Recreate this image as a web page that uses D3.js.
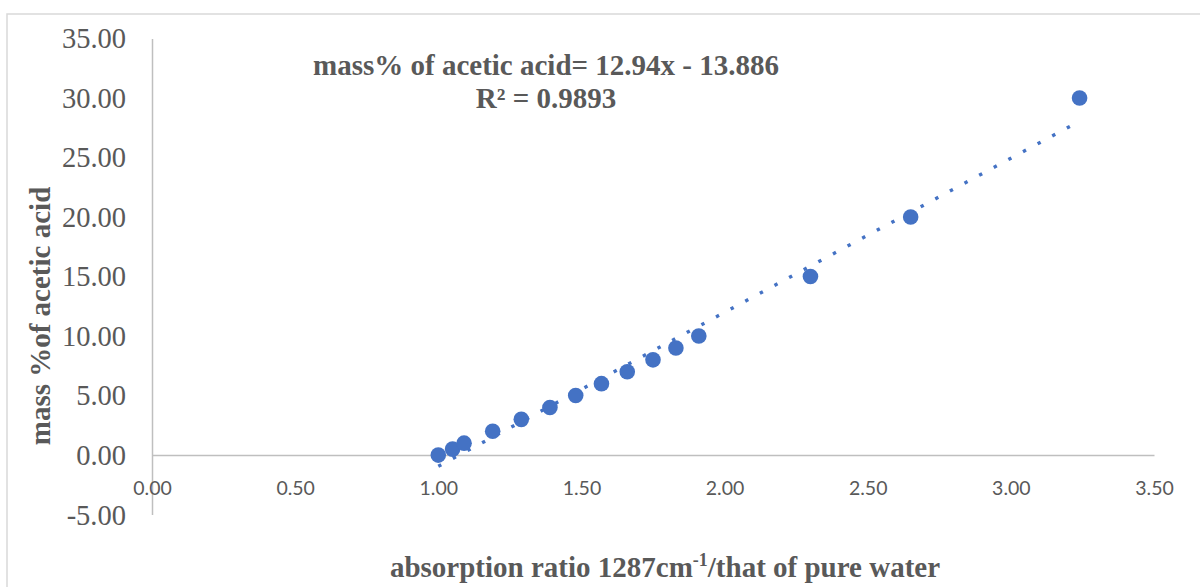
<!DOCTYPE html>
<html>
<head>
<meta charset="utf-8">
<script src="https://cdn.jsdelivr.net/npm/d3@7"></script>
<style>
  html, body { margin: 0; padding: 0; background: #fff; }
  svg { display: block; }
</style>
</head>
<body>
<svg id="chart" width="1200" height="587"></svg>
<script>
// ---- data ----
const ratioValues = [1.00, 1.05, 1.09, 1.19, 1.29, 1.39, 1.48, 1.57, 1.66, 1.75, 1.83, 1.91, 2.30, 2.65, 3.24];
const massPercent = [0, 0.5, 1, 2, 3, 4, 5, 6, 7, 8, 9, 10, 15, 20, 30];
const xTickValues = [0, 0.5, 1, 1.5, 2, 2.5, 3, 3.5];
const yTickValues = [-5, 0, 5, 10, 15, 20, 25, 30, 35];
const trendSlope = 12.94;
const trendIntercept = -13.886;
const equationText = "mass% of acetic acid= 12.94x - 13.886";
const r2Text = "R² = 0.9893";
const yTitle = "mass %of acetic acid";

const svg = d3.select("#chart");
const textColor = "#595959";
const axisColor = "#BFBFBF";
const blue = "#4472C4";
const fmt = d => d3.format(".2f")(d).replace("\u2212", "-");

// chart border
svg.append("rect")
  .attr("x", 7).attr("y", 14)
  .attr("width", 1210).attr("height", 600)
  .attr("fill", "none").attr("stroke", "#D9D9D9").attr("stroke-width", 1.5);

const x = d3.scaleLinear().domain([0, 3.5]).range([152, 1154]);
const y = d3.scaleLinear().domain([-5, 35]).range([514.6, 38.4]);

// y axis line (at x=0)
const yAxis = d3.axisLeft(y).tickValues(yTickValues).tickSize(0).tickFormat(fmt).tickPadding(26);
const gy = svg.append("g").attr("transform", `translate(${x(0)},0)`).call(yAxis);
gy.select(".domain").attr("stroke", axisColor).attr("stroke-width", 1.5);
gy.selectAll(".tick text")
  .attr("fill", textColor)
  .attr("font-family", "'Liberation Serif', 'Times New Roman', serif")
  .attr("font-size", 28.5)
  .attr("dy", "0.33em");

// x axis line (at y=0), labels below at fixed baseline
const xAxis = d3.axisBottom(x).tickValues(xTickValues).tickSize(0).tickFormat(fmt).tickPadding(0);
const gx = svg.append("g").attr("transform", `translate(0,${y(0)})`).call(xAxis);
gx.select(".domain").attr("stroke", axisColor).attr("stroke-width", 1.5);
gx.selectAll(".tick text")
  .attr("fill", textColor)
  .attr("font-family", "Lato, 'Open Sans', sans-serif")
  .attr("font-size", 19.5)
  .attr("dy", null)
  .attr("y", 495 - y(0));

// trendline
const xMin = d3.min(ratioValues), xMax = d3.max(ratioValues);
svg.append("line")
  .attr("x1", x(xMin)).attr("y1", y(trendSlope * xMin + trendIntercept))
  .attr("x2", x(xMax)).attr("y2", y(trendSlope * xMax + trendIntercept))
  .attr("stroke", blue).attr("stroke-width", 3.4)
  .attr("stroke-dasharray", "3.4 13.2");

// points
svg.append("g").selectAll("circle")
  .data(ratioValues.map((v, i) => [v, massPercent[i]]))
  .join("circle")
  .attr("cx", d => x(d[0]))
  .attr("cy", d => y(d[1]))
  .attr("r", 7.8)
  .attr("fill", blue);

// equation labels
const eq = svg.append("g")
  .attr("font-family", "'Liberation Serif', 'Times New Roman', serif")
  .attr("font-weight", "bold")
  .attr("font-size", 29)
  .attr("fill", textColor)
  .attr("text-anchor", "middle");
eq.append("text").attr("x", 546).attr("y", 75).text(equationText);
eq.append("text").attr("x", 546).attr("y", 108).text(r2Text);

// axis titles
svg.append("text")
  .attr("transform", "translate(50,316) rotate(-90)")
  .attr("text-anchor", "middle")
  .attr("font-family", "'Liberation Serif', 'Times New Roman', serif")
  .attr("font-weight", "bold")
  .attr("font-size", 29)
  .attr("fill", textColor)
  .text(yTitle);

const xt = svg.append("text")
  .attr("x", 665).attr("y", 577)
  .attr("text-anchor", "middle")
  .attr("font-family", "'Liberation Serif', 'Times New Roman', serif")
  .attr("font-weight", "bold")
  .attr("font-size", 29)
  .attr("fill", textColor);
xt.append("tspan").text("absorption ratio 1287cm");
xt.append("tspan").attr("font-size", 18).attr("dy", -11).text("-1");
xt.append("tspan").attr("dy", 11).text("/that of pure water");
</script>
</body>
</html>
